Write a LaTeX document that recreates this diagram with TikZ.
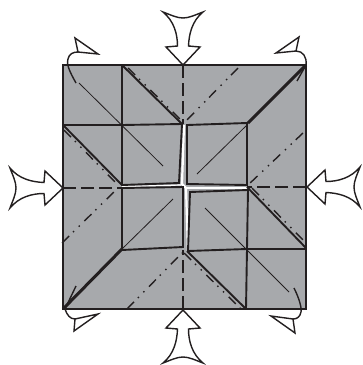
\documentclass[tikz,border=0pt]{standalone}
\usepackage{xcolor}
\usepackage{tikz}
\definecolor{pgray}{HTML}{A7A9AC}
\definecolor{pink}{HTML}{231F20}
\begin{document}
\begin{tikzpicture}[x=1pt, y=-1pt, line join=miter,
  edge/.style={draw=pink, line width=1.9pt},
  fold/.style={draw=pink, line width=1.9pt},
  thin crease/.style={draw=pink, line width=0.8pt},
  mount/.style={draw=pink, line width=1.4pt, dash pattern=on 10pt off 5.5pt on 1.4pt off 6.5pt on 1.4pt off 6.5pt},
  valley/.style={draw=pink, line width=1.6pt, dash pattern=on 13pt off 5pt},
  slit/.style={draw=white, line width=2.2pt},
  curl/.style={draw=pink, line width=1.4pt},
  fatarrow/.pic={
    \draw[draw=pink, line width=1.4pt, fill=white] (0,0) -- (-18,-17) -- (-19,-5.5)
      .. controls (-31,-6) and (-44,-9) .. (-53,-20) .. controls (-50,-12) and (-47,-6) .. (-47,0)
      .. controls (-47,6) and (-50,12) .. (-53,20) .. controls (-44,9) and (-31,5.5) .. (-19,5.5)
      -- (-18,17) -- cycle;
  }]
  \useasboundingbox (0,0) rectangle (363,365);
  % --- sheet
  \fill[pgray] (63,65) rectangle (306,309);
  % --- pleats beside the corners
  \draw[mount] (238,68) -- (183,124);
  \draw[mount] (303,133) -- (248,185);
  \draw[mount] (62,243) -- (117,189);
  \draw[mount] (127,309) -- (182,253);
  \draw[mount] (128,68) -- (182,121);
  \draw[mount] (64,130) -- (118,185);
  \draw[mount] (252,188) -- (306,243);
  \draw[mount] (184,253) -- (241,309);
  \draw[valley] (183,65) -- (183,124);
  \draw[valley] (63,188) -- (122,188);
  \draw[valley] (306,187) -- (247,187);
  \draw[valley] (183,309) -- (183,250);
  % --- thin creases
  \draw[thin crease] (79,83) -- (163,166);
  \draw[thin crease] (197,174) -- (247,125);
  \draw[thin crease] (173,199) -- (122,249);
  \draw[thin crease] (205,208) -- (289,292);
  % --- white gaps at the middle
  \draw[slit] (184,125) -- (182,184) -- (186,188) -- (188,251);
  \draw[slit, line width=1.2pt] (122,186.5) -- (181,185);
  \draw[slit] (186,188) -- (248,188);
  % --- panels
  \draw[fold] (122,125) -- (182,124) -- (179,183) -- (122,185) -- cycle;
  \draw[fold] (187,125) -- (247,123) -- (247,185) -- (187,184) -- cycle;
  \draw[fold] (122,188) -- (183,187) -- (183,247) -- (122,250) -- cycle;
  \draw[fold] (190,192) -- (248,190) -- (247,249) -- (188,251) -- cycle;
  \draw[fold] (122,65) -- (122,125) -- (63,125);
  \draw[fold] (247,249) -- (306,249);
  \draw[fold] (247,249) -- (246,309);
  \draw[fold] (122,65) -- (182,124);
  \draw[fold] (63,125) -- (122,185);
  \draw[fold] (247,187) -- (306,248);
  \draw[fold] (187,251) -- (246,309);
  \draw[draw=pink, line width=3pt] (248,123) -- (306,65);
  \draw[draw=pink, line width=3pt] (122,249) -- (63,309);
  % --- outline
  \draw[edge] (63,65) -- (306,65) -- (306,309) -- (63,309) -- cycle;
  % --- push-in arrows
  \foreach \tipx/\tipy/\turn in {63/188/0, 183/65/-90, 307/187/180, 183/310/90}
    \pic[rotate=\turn] at (\tipx,\tipy) {fatarrow};
  % --- curled arrows at the corners
  \draw[curl] (76,83) .. controls (71,74) and (66,65) .. (68,59) .. controls (69,54) and (73,52) .. (78,52);
  \draw[curl, fill=white] (78,52) -- (75,38) -- (98,54) -- cycle;
  \draw[curl] (297,81) -- (306,65) .. controls (307,57) and (303,51) .. (296,51);
  \draw[curl, fill=white] (296,51) -- (299,37) -- (276,53) -- cycle;
  \draw[curl] (76,286) -- (65,309) .. controls (67,315) and (70,319) .. (75,319);
  \draw[curl, fill=white] (75,319) -- (74,331) -- (98,314) -- cycle;
  \draw[curl] (294,288) .. controls (299,298) and (302,308) .. (301,312) .. controls (300,317) and (297,319) .. (293,319);
  \draw[curl, fill=white] (293,319) -- (295,333) -- (271,316) -- cycle;
\end{tikzpicture}
\end{document}
